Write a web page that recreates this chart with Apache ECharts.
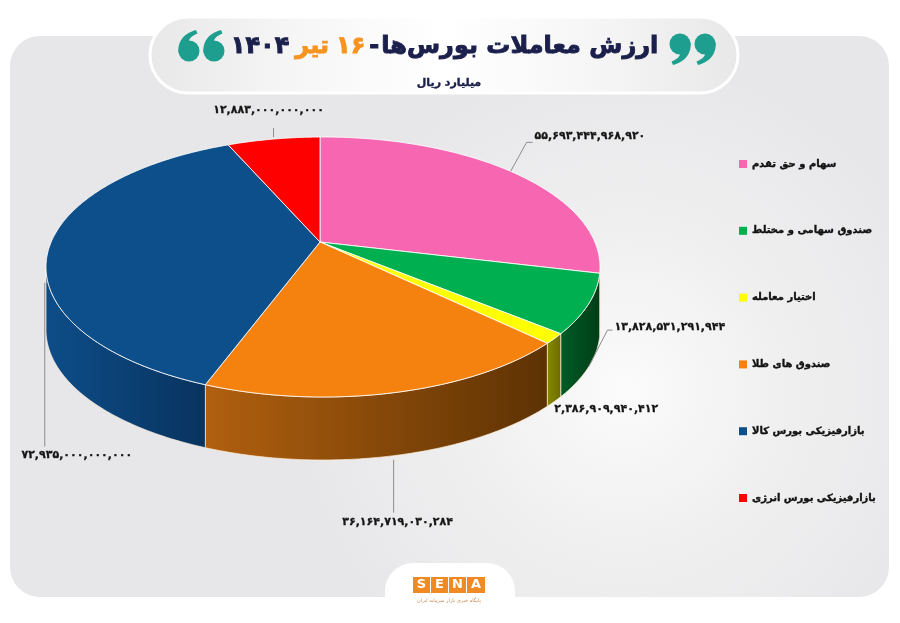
<!DOCTYPE html>
<html>
<head>
<meta charset="utf-8">
<script src="https://cdn.jsdelivr.net/npm/echarts@6/dist/echarts.min.js"></script>
<style>
html,body{margin:0;padding:0;background:#ffffff;}
#c{width:900px;height:623px;}
</style>
</head>
<body>
<div id="c"></div>
<script>
// ---------- data ----------
const categories = ['سهام و حق تقدم','صندوق سهامی و مختلط','اختیار معامله','صندوق های طلا','بازارفیزیکی بورس کالا','بازارفیزیکی بورس انرژی'];
const values = [55693444968920, 13828531291944, 2386909940412, 36164719030284, 72935000000000, 12883000000000];
const titleMain = 'ارزش معاملات بورس\u200Cها';
const titleDay = '۱۶';
const titleMonth = 'تیر';
const titleYear = '۱۴۰۴';
const subtitle = 'میلیارد ریال';

// ---------- styles / layout ----------
const topColors  = ['#f766b0','#00b050','#ffff00','#f5820f','#0c4f8a','#ff0000'];
const sideColors = [['#b8467f','#9a3568'],['#005c26','#003d17'],['#8a8a00','#6a6a00'],['#b1600f','#5d3203'],['#0d4d88','#08335f'],['#b00000','#800000']];
const G = {ax:320, ay:242, cx:323, cy:267, rx:277, ry:130, h:63};
const labelLayout = [
  {line:[[0,0],[16,-29],[22,-29]], text:[24,-35], align:'left'},
  {line:[[0,0],[19,-37],[24,-37]], text:[26,-40], align:'left'},
  {line:null, text:[0,8], align:'left'},
  {line:[[0,4],[0,57]], text:[4,66], align:'center'},
  {line:[[-5,37],[-5,201]], text:[27,210], align:'center'},
  {line:[[0,-2],[0,-11]], text:[-5,-29], align:'center'}
];
const FONT = '"DejaVu Sans", sans-serif';
const NAVY = '#1b1f4b';
const TEAL = '#1e9e8e';
const ORANGE = '#f7931e';

// ---------- helpers ----------
const faDigits = '۰۱۲۳۴۵۶۷۸۹';
function fa(n){ return n.toLocaleString('en-US').replace(/[0-9]/g, d => faDigits[+d]); }
const total = values.reduce((a,b)=>a+b,0);
const startDeg = []; const endDeg = [];
(function(){ let acc=0; values.forEach(v=>{ startDeg.push(acc/total*360); acc+=v; endDeg.push(acc/total*360); }); })();

function rim(deg){
  const t = deg*Math.PI/180, vx=Math.sin(t), vy=-Math.cos(t);
  const ux=(G.ax-G.cx)/G.rx, uy=(G.ay-G.cy)/G.ry;
  const b=ux*vx+uy*vy, c=ux*ux+uy*uy-1;
  const s=-b+Math.sqrt(b*b-c);
  return [G.ax+vx*G.rx*s, G.ay+vy*G.ry*s];
}
function phiOf(deg, isEnd){
  const p = rim(deg);
  let f = Math.atan2((p[1]-G.cy)/G.ry, (p[0]-G.cx)/G.rx);
  if (f < -Math.PI/2 - 0.05) f += 2*Math.PI;
  if (isEnd && deg >= 359.999) f = Math.atan2((p[1]-G.cy)/G.ry, (p[0]-G.cx)/G.rx) + 2*Math.PI;
  return f;
}

function renderItem(params, api){
  const i = params.dataIndex;
  const a0 = startDeg[i], a1 = endDeg[i];
  const children = [];
  const f0 = Math.max(phiOf(a0,false), 0), f1 = Math.min(phiOf(a1,true), Math.PI);
  if (f1 > f0){
    const topPts=[], botPts=[];
    const n = Math.max(2, Math.ceil((f1-f0)/(Math.PI/180)));
    for (let k=0;k<=n;k++){
      const f = f0+(f1-f0)*k/n;
      const x = G.cx+G.rx*Math.cos(f), y = G.cy+G.ry*Math.sin(f);
      topPts.push([x,y]); botPts.push([x,y+G.h]);
    }
    children.push({type:'polygon', z2:1, shape:{points: topPts.concat(botPts.reverse())},
      style:{fill:new echarts.graphic.LinearGradient(0,0,1,0,[{offset:0,color:sideColors[i][0]},{offset:1,color:sideColors[i][1]}]),
             stroke:'rgba(255,240,220,0.7)', lineWidth:1}});
  }
  const pts=[[G.ax,G.ay]];
  const m = Math.max(2, Math.ceil((a1-a0)/0.5));
  for (let k=0;k<=m;k++) pts.push(rim(a0+(a1-a0)*k/m));
  children.push({type:'polygon', z2:10, shape:{points:pts},
    style:{fill:topColors[i], stroke:'rgba(255,255,255,0.85)', lineWidth:1, lineJoin:'round'}});
  const mid=(a0+a1)/2; const p=rim(mid).slice();
  if (p[1] > G.cy) p[1] += G.h;
  const L = labelLayout[i];
  if (L.line){
    children.push({type:'polyline', z2:20, shape:{points:L.line.map(d=>[p[0]+d[0],p[1]+d[1]])},
      style:{stroke:'#8c8c8c', lineWidth:1, fill:null}});
  }
  children.push({type:'text', z2:21, style:{text:fa(api.value(0)), x:p[0]+L.text[0], y:p[1]+L.text[1],
    fill:'#141414', stroke:'#141414', lineWidth:0.3, font:'bold 11px '+FONT, textAlign:L.align, textVerticalAlign:'middle', align:L.align, verticalAlign:'middle'}});
  return {type:'group', children};
}

// quote-mark glyph (comma shape): circle + tail polygon sampled from bezier curves
function bez(p0,p1,p2,p3,n){
  const out=[];
  for(let k=0;k<=n;k++){ const t=k/n, u=1-t;
    out.push([u*u*u*p0[0]+3*u*u*t*p1[0]+3*u*t*t*p2[0]+t*t*t*p3[0], u*u*u*p0[1]+3*u*u*t*p1[1]+3*u*t*t*p2[1]+t*t*t*p3[1]]); }
  return out;
}
const tailPts = bez([-10.5,2],[-12,-9],[-5,-18],[7,-21],14).concat(bez([8.5,-17.5],[2,-15],[-1,-11],[0,-8],10));
function quoteMark(x, y, rot){
  return {type:'group', x:x, y:y, rotation:rot, children:[
    {type:'circle', z:3, shape:{cx:0, cy:0, r:10.5}, style:{fill:TEAL}},
    {type:'polygon', z:3, shape:{points:tailPts}, style:{fill:TEAL}}
  ]};
}

const chart = echarts.init(document.getElementById('c'), null, {renderer:'canvas'});
const centerText = {textAlign:'center', textVerticalAlign:'middle', align:'center', verticalAlign:'middle'};
function tok(color, padL, padR){
  return {fill:color, stroke:color, lineWidth:0.9, fontFamily:FONT, fontWeight:'bold', fontSize:24, padding:[0,padR,0,padL]};
}
const option = {
  animation:false,
  legend:{
    orient:'vertical', left:734, top:153, itemWidth:8, itemHeight:8, itemGap:54.8,
    icon:'rect', selectedMode:false,
    textStyle:{fontFamily:FONT, fontWeight:'bold', fontSize:10, lineHeight:12, color:'#111', textBorderColor:'#111', textBorderWidth:0.35},
    data:categories
  },
  graphic:[
    {type:'rect', z:0, shape:{x:10,y:36,width:879,height:561,r:30},
      style:{fill:new echarts.graphic.RadialGradient(0.7,0.63,0.6,[{offset:0,color:'#fbfbfb'},{offset:0.45,color:'#f0f0f1'},{offset:1,color:'#e7e7e9'}])}},
    {type:'rect', z:1, shape:{x:150,y:17,width:588,height:76,r:38},
      style:{fill:new echarts.graphic.LinearGradient(0,0,1,0,[{offset:0,color:'#e8e8e8'},{offset:0.25,color:'#f6f6f6'},{offset:0.5,color:'#ffffff'},{offset:0.75,color:'#f6f6f6'},{offset:1,color:'#e8e8e8'}]), stroke:'#ffffff', lineWidth:3}},
    quoteMark(189, 51, 0),
    quoteMark(214, 51, 0),
    quoteMark(680, 44, Math.PI),
    quoteMark(705, 44, Math.PI),
    {type:'text', z:2, style:Object.assign({
      text:'{n|'+titleYear+'}{o|'+titleMonth+'}{o|'+titleDay+'}{h|-}{n|'+titleMain+'}',
      x:446, y:47,
      rich:{ n:tok(NAVY,0,3), h:tok(NAVY,0,2), o:tok(ORANGE,3,4) }
    }, centerText)},
    {type:'text', z:2, style:Object.assign({text:subtitle, x:449, y:83, fill:NAVY, stroke:NAVY, lineWidth:0.4, font:'bold 11px '+FONT}, centerText)},
    {type:'rect', z:1, shape:{x:385,y:563,width:130,height:70,r:28}, style:{fill:'#ffffff'}},
    {type:'rect', z:1, shape:{x:0,y:598,width:900,height:25}, style:{fill:'#ffffff'}},
    {type:'rect', z:2, shape:{x:413,y:577,width:17,height:16}, style:{fill:'#f08a24'}},
    {type:'rect', z:2, shape:{x:431,y:577,width:17,height:16}, style:{fill:'#f08a24'}},
    {type:'rect', z:2, shape:{x:449,y:577,width:17,height:16}, style:{fill:'#f08a24'}},
    {type:'rect', z:2, shape:{x:467,y:577,width:18,height:16}, style:{fill:'#f08a24'}},
    {type:'text', z:3, style:Object.assign({text:'S', x:421.5, y:585, fill:'#fff', font:'bold 13px '+FONT}, centerText)},
    {type:'text', z:3, style:Object.assign({text:'E', x:439.5, y:585, fill:'#fff', font:'bold 13px '+FONT}, centerText)},
    {type:'text', z:3, style:Object.assign({text:'N', x:457.5, y:585, fill:'#fff', font:'bold 13px '+FONT}, centerText)},
    {type:'text', z:3, style:Object.assign({text:'A', x:476, y:585, fill:'#fff', font:'bold 13px '+FONT}, centerText)},
    {type:'text', z:3, style:Object.assign({text:'پایگاه خبری بازار سرمایه ایران', x:449, y:601, fill:'#c48a50', font:'5px '+FONT}, centerText)}
  ],
  series:[
    {type:'pie', name:'legend', radius:[0,0], center:[-100,-100], silent:true, label:{show:false}, labelLine:{show:false},
      data:categories.map((c,i)=>({name:c, value:values[i], itemStyle:{color:topColors[i]}}))},
    {type:'custom', coordinateSystem:'none', silent:true, renderItem:renderItem,
      data:values.map((v,i)=>({name:categories[i], value:v}))}
  ]
};
chart.setOption(option);
</script>
</body>
</html>
